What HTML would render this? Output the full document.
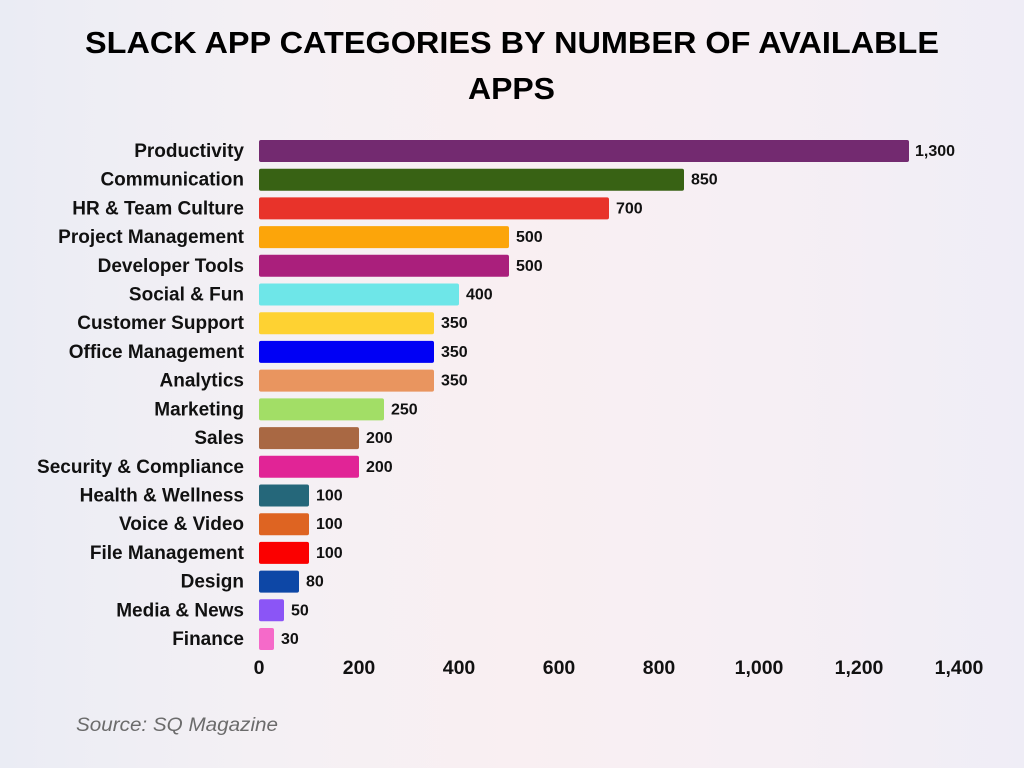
<!DOCTYPE html>
<html>
<head>
<meta charset="utf-8">
<style>
  html, body { margin:0; padding:0; }
  body { width:1024px; height:768px; overflow:hidden;
    background: linear-gradient(90deg, #eaecf4 0%, #f4f0f4 25%, #f9eff2 50%, #f6eff4 75%, #efedf6 100%); }
  svg { display:block; }
  .lab { font-family:"Liberation Sans", sans-serif; font-weight:bold; font-size:19px; fill:#111; text-anchor:end; }
  .val { font-family:"Liberation Sans", sans-serif; font-weight:bold; font-size:16px; fill:#111; }
  .tick { font-family:"Liberation Sans", sans-serif; font-weight:bold; font-size:19.5px; fill:#111; text-anchor:middle; }
</style>
</head>
<body>
<svg width="1024" height="768" viewBox="0 0 1024 768" xmlns="http://www.w3.org/2000/svg">
  <text x="85" y="53" textLength="854" lengthAdjust="spacingAndGlyphs" font-family="Liberation Sans, sans-serif" font-weight="bold" font-size="31" fill="#000">SLACK APP CATEGORIES BY NUMBER OF AVAILABLE</text>
  <text x="468" y="99" textLength="87" lengthAdjust="spacingAndGlyphs" font-family="Liberation Sans, sans-serif" font-weight="bold" font-size="31" fill="#000">APPS</text>

  <g transform="translate(0,140)">
    <text class="lab" x="244" y="17">Productivity</text>
    <rect x="259" y="0" width="650" height="22" rx="2" fill="#732a70"/>
    <text class="val" x="915" y="16">1,300</text>
  </g>
  <g transform="translate(0,168.7)">
    <text class="lab" x="244" y="17">Communication</text>
    <rect x="259" y="0" width="425" height="22" rx="2" fill="#386214"/>
    <text class="val" x="691" y="16">850</text>
  </g>
  <g transform="translate(0,197.4)">
    <text class="lab" x="244" y="17">HR &amp; Team Culture</text>
    <rect x="259" y="0" width="350" height="22" rx="2" fill="#e8332a"/>
    <text class="val" x="616" y="16">700</text>
  </g>
  <g transform="translate(0,226.1)">
    <text class="lab" x="244" y="17">Project Management</text>
    <rect x="259" y="0" width="250" height="22" rx="2" fill="#fca50a"/>
    <text class="val" x="516" y="16">500</text>
  </g>
  <g transform="translate(0,254.8)">
    <text class="lab" x="244" y="17">Developer Tools</text>
    <rect x="259" y="0" width="250" height="22" rx="2" fill="#aa1f7c"/>
    <text class="val" x="516" y="16">500</text>
  </g>
  <g transform="translate(0,283.5)">
    <text class="lab" x="244" y="17">Social &amp; Fun</text>
    <rect x="259" y="0" width="200" height="22" rx="2" fill="#6ee6e8"/>
    <text class="val" x="466" y="16">400</text>
  </g>
  <g transform="translate(0,312.2)">
    <text class="lab" x="244" y="17">Customer Support</text>
    <rect x="259" y="0" width="175" height="22" rx="2" fill="#fed232"/>
    <text class="val" x="441" y="16">350</text>
  </g>
  <g transform="translate(0,340.9)">
    <text class="lab" x="244" y="17">Office Management</text>
    <rect x="259" y="0" width="175" height="22" rx="2" fill="#0000f5"/>
    <text class="val" x="441" y="16">350</text>
  </g>
  <g transform="translate(0,369.6)">
    <text class="lab" x="244" y="17">Analytics</text>
    <rect x="259" y="0" width="175" height="22" rx="2" fill="#e9955f"/>
    <text class="val" x="441" y="16">350</text>
  </g>
  <g transform="translate(0,398.4)">
    <text class="lab" x="244" y="17">Marketing</text>
    <rect x="259" y="0" width="125" height="22" rx="2" fill="#a2de66"/>
    <text class="val" x="391" y="16">250</text>
  </g>
  <g transform="translate(0,427.1)">
    <text class="lab" x="244" y="17">Sales</text>
    <rect x="259" y="0" width="100" height="22" rx="2" fill="#a96843"/>
    <text class="val" x="366" y="16">200</text>
  </g>
  <g transform="translate(0,455.8)">
    <text class="lab" x="244" y="17">Security &amp; Compliance</text>
    <rect x="259" y="0" width="100" height="22" rx="2" fill="#e12496"/>
    <text class="val" x="366" y="16">200</text>
  </g>
  <g transform="translate(0,484.5)">
    <text class="lab" x="244" y="17">Health &amp; Wellness</text>
    <rect x="259" y="0" width="50" height="22" rx="2" fill="#25677a"/>
    <text class="val" x="316" y="16">100</text>
  </g>
  <g transform="translate(0,513.2)">
    <text class="lab" x="244" y="17">Voice &amp; Video</text>
    <rect x="259" y="0" width="50" height="22" rx="2" fill="#de6422"/>
    <text class="val" x="316" y="16">100</text>
  </g>
  <g transform="translate(0,541.9)">
    <text class="lab" x="244" y="17">File Management</text>
    <rect x="259" y="0" width="50" height="22" rx="2" fill="#fb0000"/>
    <text class="val" x="316" y="16">100</text>
  </g>
  <g transform="translate(0,570.6)">
    <text class="lab" x="244" y="17">Design</text>
    <rect x="259" y="0" width="40" height="22" rx="2" fill="#0d47a6"/>
    <text class="val" x="306" y="16">80</text>
  </g>
  <g transform="translate(0,599.3)">
    <text class="lab" x="244" y="17">Media &amp; News</text>
    <rect x="259" y="0" width="25" height="22" rx="2" fill="#8b55f6"/>
    <text class="val" x="291" y="16">50</text>
  </g>
  <g transform="translate(0,628)">
    <text class="lab" x="244" y="17">Finance</text>
    <rect x="259" y="0" width="15" height="22" rx="2" fill="#f56ac9"/>
    <text class="val" x="281" y="16">30</text>
  </g>

  <text class="tick" x="259" y="674">0</text>
  <text class="tick" x="359" y="674">200</text>
  <text class="tick" x="459" y="674">400</text>
  <text class="tick" x="559" y="674">600</text>
  <text class="tick" x="659" y="674">800</text>
  <text class="tick" x="759" y="674">1,000</text>
  <text class="tick" x="859" y="674">1,200</text>
  <text class="tick" x="959" y="674">1,400</text>

  <text x="76" y="731" textLength="202" lengthAdjust="spacingAndGlyphs" font-family="Liberation Sans, sans-serif" font-style="italic" font-size="19" fill="#6b6b6b">Source: SQ Magazine</text>
</svg>
</body>
</html>
